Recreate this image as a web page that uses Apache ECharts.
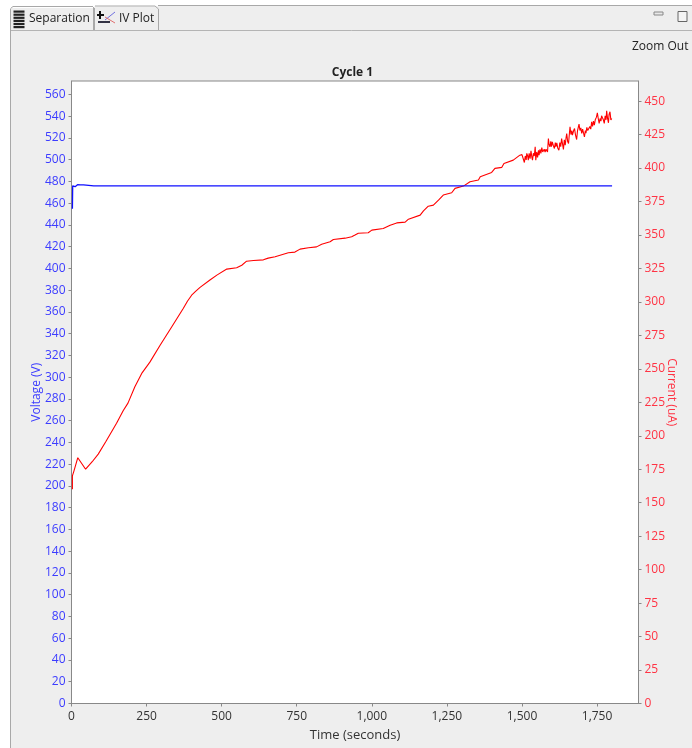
<!DOCTYPE html>
<html>
<head>
<meta charset="utf-8">
<style>html,body{margin:0;padding:0;background:#fff}#c{width:692px;height:748px}</style>
<script src="https://cdn.jsdelivr.net/npm/echarts@6/dist/echarts.min.js"></script>
</head>
<body>
<div id="c"></div>
<script>
const titleText = 'Cycle 1';
const xName = 'Time (seconds)';
const leftName = 'Voltage (V)';
const rightName = 'Current (uA)';
const xTicks = [0, 250, 500, 750, 1000, 1250, 1500, 1750];
const voltageTicks = [0,20,40,60,80,100,120,140,160,180,200,220,240,260,280,300,320,340,360,380,400,420,440,460,480,500,520,540,560];
const currentTicks = [0,25,50,75,100,125,150,175,200,225,250,275,300,325,350,375,400,425,450];

const voltageTime = [3,4,12,16,20,24,30,36,40,44,74,78,82,101,105,109,184,188,192,224,228,232,257,261,265,313,317,321,346,350,354,368,372,376,446,450,454,480,484,488,646,650,654,734,738,742,768,772,776,890,894,898,1263,1267,1271,1353,1357,1361,1399,1403,1407,1423,1427,1431,1499,1503,1507,1529,1533,1537,1666,1670,1674,1756,1760,1764,1800];
const voltageValues = [455,476,475.2,475.9,477,475.9,476.8,477.4,476.8,475.9,475.9,476.8,475.9,475.9,476.8,475.9,475.9,474.9,475.9,475.9,474.9,475.9,475.9,474.9,475.9,475.9,476.8,475.9,475.9,476.8,475.9,475.9,476.8,475.9,475.9,476.8,475.9,475.9,476.8,475.9,475.9,476.8,475.9,475.9,476.8,475.9,475.9,476.8,475.9,475.9,476.8,475.9,475.9,476.8,475.9,475.9,476.8,475.9,475.9,476.8,475.9,475.9,476.8,475.9,475.9,474.9,475.9,475.9,476.8,475.9,475.9,476.8,475.9,475.9,476.8,475.9,475.9];

const currentTime = [3,3,8,21,27,47,69,89,114,150,172,188,211,235,261,295,334,372,386,400,414,428,461,484,517,550,567,583,606,639,655,678,722,744,761,789,816,833,861,872,911,933,944,955,988,1000,1038,1061,1083,1111,1122,1161,1172,1188,1205,1222,1238,1266,1277,1305,1327,1355,1361,1399,1410,1433,1440,1471,1493,1500,1503,1505,1508,1511,1514,1516,1519,1521,1524,1527,1530,1533,1535,1538,1541,1544,1546,1549,1552,1555,1557,1560,1563,1566,1569,1571,1574,1577,1580,1582,1585,1588,1590,1593,1596,1598,1601,1604,1608,1611,1613,1616,1619,1623,1626,1629,1632,1635,1638,1641,1644,1647,1649,1652,1655,1658,1660,1663,1666,1668,1672,1675,1678,1682,1685,1688,1690,1693,1696,1699,1702,1705,1708,1711,1713,1716,1719,1723,1726,1729,1732,1735,1738,1741,1744,1748,1751,1754,1757,1760,1763,1765,1768,1771,1774,1777,1780,1782,1785,1788,1790,1793,1796,1799];
const currentValues = [160,170,173.6,183.6,183.6,175,180.6,186.3,195.5,209.3,218.7,224.4,236.6,247,255,267.6,281.4,295,300.5,305,308,310.8,316.3,320,324.5,325.5,327.4,330.4,330.9,331.4,332.7,333.7,336.7,337.2,339.4,340.4,341.1,343.1,344.9,346.6,347.6,348.6,349.9,351.3,351.6,353.6,354.8,357.3,359,359.6,361.8,364.8,368,371.5,372.3,376,379.8,381.5,384.8,386.5,389.7,391,393.4,396.7,399.7,400.5,403.4,405.9,409.6,410,411,411.4,404.1,409,406,410.9,409,405.9,411,407,412.9,408,405.9,411,409,415.8,405.9,412,408,413.3,409.6,414,411,415.3,412,411.4,414,412,414,413.3,412,422,418,415.8,420,416,419.6,417,414.6,419,416,418.8,415,413.3,419,416,422,418,413.9,421,417,423,425.8,420,418.3,426,430.8,425,428,424.6,428,429.5,425,421.3,428,431,432.8,428,430,425.8,429,426,423.3,428,426,430.3,428,427,431,429,434.5,431,435,432,436,438,441.2,437,433.3,437,435,439,439.5,436,433.3,439,436,442.7,437,433.8,440,442,436,437];

const zip = (a, b) => a.map((v, i) => [v, b[i]]);
const font = '"Open Sans", "Noto Sans", sans-serif';
const panel = '#eeeeee', edge = '#a8a8a8';
const line = (x1,y1,x2,y2,stroke=edge,w=1) => ({type:'line',silent:true,z:-1,shape:{x1,y1,x2,y2},style:{stroke,lineWidth:w}});
const rect = (x,y,width,height,fill,stroke) => ({type:'rect',silent:true,z:-1,shape:{x,y,width,height},style:{fill,stroke:stroke||null,lineWidth:1}});
const label = (x,y,text,extra={}) => ({type:'text',silent:true,z:-1,x,y,style:{text,fill:'#222',font:'12px '+font,textVerticalAlign:'middle',...extra}});

const iconBars = [0,1,2,3,4,5].map(i => rect(13.5, 10.5 + i*3.1, 11, 2.2, '#222'));

const chart = echarts.init(document.getElementById('c'), null, {renderer:'canvas'});
chart.setOption({
  animation:false,
  backgroundColor:'#ffffff',
  title:{text:titleText,left:347.5,top:61,textAlign:'center',textStyle:{fontFamily:font,fontSize:12,fontWeight:'bold',color:'#222',lineHeight:14}},
  graphic:{elements:[
    rect(10.5,30.5,682,718,panel),
    rect(158,5.5,534,25,panel),
    rect(10.5,8,83,22.5,panel),
    rect(94,6.5,64,24,panel),
    line(158,5.5,692,5.5),
    line(10.5,30.5,692,30.5,'#b4b4b4',1),
    line(10.5,30,10.5,748),
    line(10.5,30,10.5,9),line(10.5,8.5,13,6.5),line(13,6.5,93,6.5),line(93.5,7,93.5,30),
    line(94.5,8,94.5,30),line(95,6,155,6),line(155,6,158.5,9),line(158.5,9,158.5,30),
    ...iconBars,
    label(29,19,'Separation'),
    line(100,11,100,19,'#111',2),line(97,15,104,15,'#111',2),
    line(98,22,110,22,'#334',2),line(105,20,115,12,'#7070e0',1),line(105,17,115,23,'#e07070',1),
    label(119,19,'IV Plot'),
    rect(654,12,9,3,'#e8e8e8','#888'),
    rect(678,11.5,9,10,'#f4f4f4','#666'),
    label(632,47,'Zoom Out')
  ]},
  grid:{left:71.5,right:53.5,top:81,bottom:44.5,outerBoundsMode:'none',show:true,backgroundColor:'#fff',borderColor:'#888',borderWidth:1},
  xAxis:{type:'value',min:0,max:1888,
    name:xName,nameLocation:'middle',nameGap:25,nameMoveOverlap:false,
    nameTextStyle:{fontFamily:font,fontSize:13,color:'#333'},
    axisLine:{show:true,lineStyle:{color:'#888'}},
    axisTick:{show:true,length:3,lineStyle:{color:'#888'},customValues:xTicks},
    axisLabel:{fontFamily:font,fontSize:12,color:'#333',margin:7,customValues:xTicks},
    splitLine:{show:false}},
  yAxis:[
    {type:'value',min:0,max:572.4,position:'left',
     name:leftName,nameLocation:'middle',nameGap:29,nameRotate:90,nameMoveOverlap:false,
     nameTextStyle:{fontFamily:font,fontSize:12,color:'#3c3cff'},
     axisLine:{show:true,lineStyle:{color:'#888'}},
     axisTick:{show:true,length:3,lineStyle:{color:'#888'},customValues:voltageTicks},
     axisLabel:{fontFamily:font,fontSize:12,color:'#3c3cff',margin:6,customValues:voltageTicks},
     splitLine:{show:false}},
    {type:'value',min:0,max:465,position:'right',
     name:rightName,nameLocation:'middle',nameGap:27,nameRotate:-90,nameMoveOverlap:false,
     nameTextStyle:{fontFamily:font,fontSize:12,color:'#ff3344'},
     axisLine:{show:true,lineStyle:{color:'#888'}},
     axisTick:{show:true,length:3,lineStyle:{color:'#888'},customValues:currentTicks},
     axisLabel:{fontFamily:font,fontSize:12,color:'#ff3344',margin:6,customValues:currentTicks},
     splitLine:{show:false}}
  ],
  series:[
    {type:'line',name:rightName,yAxisIndex:1,showSymbol:false,data:zip(currentTime,currentValues),lineStyle:{color:'#ff0000',width:1.1},itemStyle:{color:'#ff0000'},z:2},
    {type:'line',name:leftName,yAxisIndex:0,showSymbol:false,data:zip(voltageTime,voltageValues),lineStyle:{color:'#1010ff',width:1.3},itemStyle:{color:'#0000ff'},z:3}
  ]
});
</script>
</body>
</html>
